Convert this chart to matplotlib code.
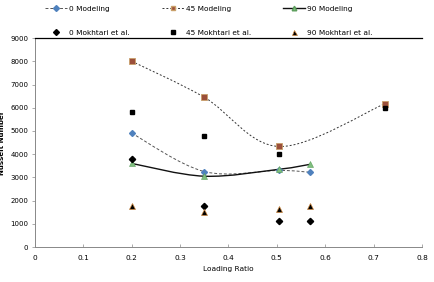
import numpy as np
import matplotlib
matplotlib.use("Agg")
import matplotlib.pyplot as plt
from matplotlib.path import Path
from matplotlib.patches import PathPatch
from matplotlib.lines import Line2D

# Data
x_m0 = [0.2, 0.35, 0.505, 0.568]
y_m0 = [4900, 3250, 3300, 3220]
x_m45 = [0.2, 0.35, 0.505, 0.723]
y_m45 = [8000, 6450, 4330, 6170]
x_m90 = [0.2, 0.35, 0.505, 0.568]
y_m90 = [3600, 3050, 3350, 3560]

x_e0 = [0.2, 0.35, 0.505, 0.568]
y_e0 = [3800, 1760, 1130, 1130]
x_e45 = [0.2, 0.35, 0.505, 0.723]
y_e45 = [5800, 4780, 3990, 6000]
x_e90 = [0.2, 0.35, 0.505, 0.568]
y_e90 = [1760, 1530, 1640, 1750]

xticks = [0, 0.1, 0.2, 0.3, 0.4, 0.5, 0.6, 0.7, 0.8]
yticks = [0, 1000, 2000, 3000, 4000, 5000, 6000, 7000, 8000, 9000]

plt.rcParams['font.family'] = ['DejaVu Sans']

fig = plt.figure(figsize=(4.35, 2.82), dpi=100)
ax = fig.add_axes([0.0805, 0.124, 0.8895, 0.741])

def smooth_path(xs, ys):
    # Excel-style smoothed line: cubic Bezier through points
    pts = np.column_stack([xs, ys]).astype(float)
    n = len(pts)
    verts = [pts[0]]
    codes = [Path.MOVETO]
    for i in range(n - 1):
        p0 = pts[i - 1] if i > 0 else pts[i]
        p1 = pts[i]
        p2 = pts[i + 1]
        p3 = pts[i + 2] if i + 2 < n else pts[i + 1]
        c1 = p1 + (p2 - p0) / 6.0
        c2 = p2 - (p3 - p1) / 6.0
        verts += [c1, c2, p2]
        codes += [Path.CURVE4] * 3
    return Path(verts, codes)

def add_smooth(xs, ys, **kw):
    patch = PathPatch(smooth_path(xs, ys), facecolor='none', transform=ax.transData, **kw)
    ax.add_patch(patch)

add_smooth(x_m0, y_m0, edgecolor='#555555', linewidth=0.7, linestyle=(0, (3, 2)))
add_smooth(x_m45, y_m45, edgecolor='#333333', linewidth=0.7, linestyle=(0, (2, 2)))
add_smooth(x_m90, y_m90, edgecolor='#111111', linewidth=1.0, linestyle='-')

ax.plot(x_m0, y_m0, linestyle='none', marker='D', color='#4F81BD', markersize=3.0, zorder=3)
ax.plot(x_m45, y_m45, linestyle='none', marker='s', color='#9B4F3A', markeredgecolor='#C9A06A',
        markeredgewidth=0.6, markersize=3.8, zorder=3)
ax.plot(x_m90, y_m90, linestyle='none', marker='^', color='#7FBF7F', markeredgecolor='#5C9E5C',
        markeredgewidth=0.4, markersize=3.8, zorder=3)

ax.plot(x_e0, y_e0, linestyle='none', marker='D', color='black', markersize=3.2, zorder=4)
ax.plot(x_e45, y_e45, linestyle='none', marker='s', color='black', markersize=3.3, zorder=4)
ax.plot(x_e90, y_e90, linestyle='none', marker='^', color='black', markeredgecolor='#D08A40',
        markeredgewidth=0.5, markersize=4.0, zorder=4)

ax.set_xlim(0, 0.8)
ax.set_ylim(0, 9000)
ax.set_xticks(xticks)
ax.set_xticklabels([('%g' % t) for t in xticks])
ax.set_yticks(yticks)
ax.set_yticklabels([str(t) for t in yticks])
ax.tick_params(axis='x', direction='in', length=2, width=0.5, color='#888888', labelsize=5.3, pad=6)
ax.tick_params(axis='y', direction='out', length=2, width=0.5, color='#888888', labelsize=5.0, pad=3)

ax.spines['right'].set_visible(False)
ax.spines['top'].set_color('black')
ax.spines['top'].set_linewidth(0.9)
ax.spines['left'].set_color('#888888')
ax.spines['left'].set_linewidth(0.7)
ax.spines['bottom'].set_color('#888888')
ax.spines['bottom'].set_linewidth(0.7)

ax.set_xlabel('Loading Ratio', fontsize=5.3, labelpad=3)
ax.set_ylabel('Nusselt Number', fontsize=5.0, fontweight='bold')
ax.yaxis.set_label_coords(-0.077, 0.5)

h = [
    Line2D([], [], color='#555555', lw=0.7, ls=(0, (3, 2)), marker='D', mfc='#4F81BD', mec='#4F81BD', ms=3),
    Line2D([], [], color='black', ls='none', marker='D', ms=3.0),
    Line2D([], [], color='#333333', lw=0.7, ls=(0, (2, 2)), marker='s', mfc='#9B4F3A', mec='#C9A06A', ms=3.3),
    Line2D([], [], color='black', ls='none', marker='s', ms=3.0),
    Line2D([], [], color='#111111', lw=1.0, ls='-', marker='^', mfc='#7FBF7F', mec='#5C9E5C', ms=3.3),
    Line2D([], [], color='black', ls='none', marker='^', mec='#D08A40', mew=0.5, ms=3.6),
]
labels = ['0 Modeling', '0 Mokhtari et al.', '45 Modeling', '45 Mokhtari et al.',
          '90 Modeling', '90 Mokhtari et al.']
fig.legend(h, labels, ncol=3, loc='upper left', bbox_to_anchor=(0.088, 1.004), frameon=False,
           fontsize=5.3, handlelength=3.0, columnspacing=4.3, labelspacing=2.45, handletextpad=0.3)

fig.savefig('out.png', dpi=100)
